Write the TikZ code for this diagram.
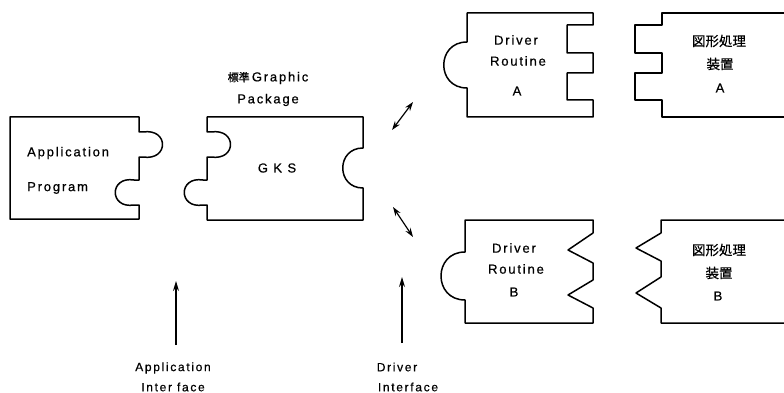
\documentclass[tikz,border=0pt]{standalone}
\usepackage{fontspec}
\setmainfont{Liberation Sans}[LetterSpace=14,FakeBold=0.6]
\newfontfamily\cjk{Noto Sans CJK JP}[FakeBold=0.6]
\usetikzlibrary{arrows.meta}
\begin{document}
\begin{tikzpicture}[x=1pt,y=-1pt,
  piece/.style={draw=black,line width=1.5pt,line join=round},
  lbl/.style={inner sep=0pt,font=\fontsize{13}{15}\selectfont},
  clbl/.style={inner sep=0pt,font=\cjk\fontsize{13.5}{15}\selectfont},
  dbl/.style={line width=1.2pt,{Stealth[length=9pt,width=6pt]}-{Stealth[length=9pt,width=6pt]}},
  up/.style={line width=1.2pt,-{Stealth[length=10pt,width=6pt]}}]
\useasboundingbox (0,0) rectangle (784,393);
% Application Program
\draw[piece] (10,117) -- (139,117) -- (139,132) -- (143,132)
  .. controls (169,128) and (169,161) .. (143,157) -- (139,157) -- (139,180) -- (134,180)
  .. controls (109,176) and (109,209) .. (134,205) -- (139,205) -- (139,219) -- (10,219) -- cycle;
\node[lbl,anchor=west] (ap1) at (27,153) {Application};
\node[lbl,anchor=west] (ap2) at (27,188) {Program};
% GKS
\draw[piece] (207,117) -- (363,117) -- (363,148)
  .. controls (336,148) and (336,188) .. (363,188) -- (363,220) -- (207,220) -- (207,205) -- (203,205)
  .. controls (178,209) and (178,176) .. (203,180) -- (207,180) -- (207,157) -- (211,157)
  .. controls (237,161) and (237,128) .. (211,132) -- (207,132) -- cycle;
\node[lbl] (gks) at (277,168) {G K S};
\node[lbl] (std1) at (268,78) {{\cjk\fontsize{11}{13}\selectfont 標準}\,Graphic};
\node[lbl] (std2) at (268,100) {Package};
% Driver Routine A
\draw[piece] (467,13) -- (593,13) -- (593,25) -- (567,25) -- (567,53) -- (593,53) -- (593,73)
  -- (567,73) -- (567,100) -- (593,100) -- (593,117) -- (467,117) -- (467,88)
  .. controls (436,88) and (436,42) .. (467,42) -- cycle;
\node[lbl] (da1) at (516,40) {Driver};
\node[lbl] (da2) at (518,61) {Routine};
\node[lbl] (da3) at (517,91) {A};
% Device A
\draw[piece] (784,13) -- (662,13) -- (662,25) -- (635,25) -- (635,53) -- (662,53) -- (662,73)
  -- (635,73) -- (635,100) -- (662,100) -- (662,117) -- (784,117);
\node[clbl] (ga1) at (719,41) {図形処理};
\node[clbl] (ga2) at (720,64) {装置};
\node[lbl] (ga3) at (720,88) {A};
% Driver Routine B
\draw[piece] (465,220) -- (593,220) -- (593,233) -- (568,250) -- (593,263) -- (593,280)
  -- (568,295) -- (593,308) -- (593,323) -- (465,323) -- (465,300)
  .. controls (433,300) and (433,252) .. (465,252) -- cycle;
\node[lbl] (db1) at (514,248) {Driver};
\node[lbl] (db2) at (516,269) {Routine};
\node[lbl] (db3) at (514,292) {B};
% Device B
\draw[piece] (784,220) -- (661,220) -- (661,233) -- (636,248) -- (661,261) -- (661,277)
  -- (636,293) -- (661,308) -- (661,323) -- (784,323);
\node[clbl] (gb1) at (719,250) {図形処理};
\node[clbl] (gb2) at (719,273) {装置};
\node[lbl] (gb3) at (718,296) {B};
% double arrows
\coordinate (ua1) at (392,130);
\coordinate (ua2) at (413,102);
\coordinate (la1) at (393,207);
\coordinate (la2) at (413,237);
\draw[dbl] (ua1) -- (ua2);
\draw[dbl] (la1) -- (la2);
% interface arrows
\coordinate (ai1) at (176,345);
\coordinate (ai2) at (176,281);
\coordinate (di1) at (402,343);
\coordinate (di2) at (402,277);
\draw[up] (ai1) -- (ai2);
\draw[up] (di1) -- (di2);
\node[lbl,font=\fontsize{12}{14}\selectfont] (ail1) at (173,368) {Application};
\node[lbl,font=\fontsize{12}{14}\selectfont] (ail2) at (173,387) {Inter face};
\node[lbl,font=\fontsize{12}{14}\selectfont] (dil1) at (397,367) {Driver};
\node[lbl,font=\fontsize{12}{14}\selectfont] (dil2) at (408,387) {Interface};
\end{tikzpicture}
\end{document}
